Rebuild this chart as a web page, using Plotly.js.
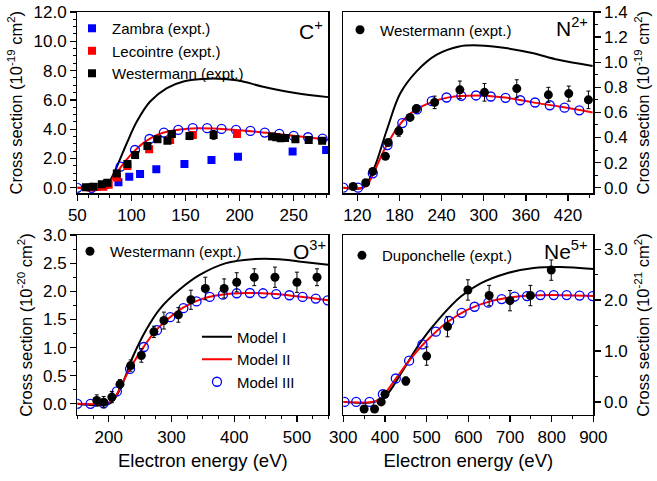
<!DOCTYPE html>
<html><head><meta charset="utf-8">
<script src="https://cdn.plot.ly/plotly-3.0.1.min.js"></script>
<style>html,body{margin:0;padding:0;background:#fff}</style>
</head><body><div id="chart" style="width:657px;height:481px"></div>
<script>
// ---------- C+ panel ----------
const cZambraX = [88, 98, 108, 123, 149, 174, 198.5, 249, 280];
const cZambraY = [0.38, 0.75, 0.94, 1.26, 1.62, 1.90, 2.12, 2.47, 2.58];
const cLecX = [62, 68, 74, 79, 86.5, 96.3, 116.4, 135.8, 156.8, 197.6];
const cLecY = [0.02, 0.05, 0.08, 0.2, 0.71, 1.49, 2.63, 3.27, 3.61, 3.68];
const cWesX = [58, 64.8, 72.6, 77.8, 86.5, 96.3, 103.4, 114.8, 124.1, 133.3, 137.4, 153.7, 176, 230, 234, 238, 242, 251.6, 263.9, 276.3];
const cWesY = [0.03, 0.07, 0.25, 0.34, 0.98, 1.62, 2.24, 2.86, 3.31, 3.22, 3.68, 3.54, 3.61, 3.5, 3.45, 3.38, 3.4, 3.31, 3.27, 3.22];
const cWesE = [0.05, 0.05, 0.05, 0.05, 0.08, 0.08, 0.1, 0.1, 0.12, 0.12, 0.2, 0.25, 0.3, 0.12, 0.12, 0.12, 0.12, 0.12, 0.12, 0.12];
const cM1X = [50, 75, 78.7, 86.5, 95.7, 105, 117.3, 132.8, 148.1, 166.7, 180, 199, 220.7, 251.6, 282];
const cM1Y = [0, 0.05, 0.3, 1.44, 3.04, 4.52, 5.89, 6.81, 7.26, 7.43, 7.45, 7.33, 6.92, 6.47, 6.19];
const cM2X = [50, 65, 72, 77, 85, 90, 100, 110, 120, 130, 145, 160, 175, 200, 225, 250, 282];
const cM2Y = [0, 0, 0.04, 0.22, 0.85, 1.4, 2.3, 3.0, 3.48, 3.77, 3.98, 4.07, 4.05, 3.93, 3.75, 3.55, 3.28];
const cM3X = [50, 63.3, 76.6, 90, 103.3, 116.7, 130, 143.3, 156.7, 170, 183.3, 196.7, 210, 223.3, 236.7, 250, 263.3, 276.7];
const cM3Y = [0, 0, 0.25, 1.44, 2.58, 3.33, 3.77, 3.95, 4.07, 4.07, 4.02, 3.95, 3.88, 3.77, 3.68, 3.54, 3.45, 3.36];
// ---------- N2+ panel ----------
const nWesX = [114, 132, 142, 160, 164, 179, 195, 204, 230, 266, 301, 347, 392, 421, 449];
const nWesY = [0.01, 0.04, 0.13, 0.25, 0.36, 0.45, 0.56, 0.63, 0.68, 0.78, 0.76, 0.79, 0.74, 0.75, 0.70];
const nWesE = [0.01, 0.01, 0.02, 0.02, 0.02, 0.04, 0.02, 0.03, 0.05, 0.07, 0.07, 0.07, 0.06, 0.06, 0.07];
const nM1X = [100, 129, 143.5, 162, 181, 204, 233, 265, 294, 331, 369, 406, 455];
const nM1Y = [0, 0.005, 0.15, 0.46, 0.75, 0.925, 1.06, 1.126, 1.134, 1.113, 1.073, 1.019, 0.97];
const nM2X = [100, 128, 135, 145, 160, 180, 200, 225, 250, 290, 330, 370, 410, 455];
const nM2Y = [0, 0, 0.03, 0.14, 0.32, 0.5, 0.61, 0.68, 0.72, 0.735, 0.718, 0.68, 0.645, 0.6];
const nM3X = [100, 121, 142, 163, 184, 205, 226, 247, 268, 289, 310, 331, 352, 373, 394, 415, 436];
const nM3Y = [0, 0, 0.115, 0.34, 0.515, 0.625, 0.69, 0.719, 0.732, 0.735, 0.727, 0.716, 0.697, 0.679, 0.657, 0.638, 0.617];
// ---------- O3+ panel ----------
const oWesX = [181, 192, 205, 218, 235, 252, 272, 288, 311, 331, 354, 384, 404, 432, 465, 500, 532];
const oWesY = [0.06, 0.03, 0.12, 0.35, 0.68, 0.86, 1.28, 1.48, 1.58, 1.85, 2.05, 2.05, 2.16, 2.25, 2.25, 2.16, 2.25];
const oWesE = [0.1, 0.1, 0.1, 0.08, 0.1, 0.12, 0.1, 0.15, 0.13, 0.17, 0.2, 0.17, 0.17, 0.15, 0.18, 0.18, 0.15];
const oM1X = [150, 202, 218, 239, 260, 281, 313, 345, 387, 429, 472, 503, 550];
const oM1Y = [0, 0.01, 0.26, 0.85, 1.32, 1.68, 2.03, 2.29, 2.5, 2.57, 2.57, 2.53, 2.47];
const oM2X = [150, 200, 210, 220, 235, 255, 275, 300, 320, 350, 380, 420, 460, 500, 550];
const oM2Y = [0, 0.02, 0.12, 0.33, 0.65, 1.0, 1.3, 1.56, 1.72, 1.87, 1.94, 1.97, 1.955, 1.91, 1.84];
const oM3X = [150, 171, 192, 213, 234, 256, 277, 298, 319, 340, 361, 382, 404, 425, 446, 467, 488, 509, 530, 549];
const oM3Y = [0, 0, 0.01, 0.22, 0.62, 1.01, 1.31, 1.54, 1.7, 1.82, 1.9, 1.94, 1.965, 1.97, 1.965, 1.95, 1.93, 1.9, 1.87, 1.84];
// ---------- Ne5+ panel ----------
const neDupX = [350, 375, 391, 400, 450, 500, 550, 599, 650, 700, 749, 799];
const neDupY = [-0.14, -0.14, 0, 0.15, 0.41, 0.9, 1.48, 2.2, 2.09, 1.99, 2.09, 2.59];
const neDupE = [0.06, 0.03, 0.03, 0.03, 0.08, 0.18, 0.2, 0.2, 0.2, 0.2, 0.2, 0.2];
const neM1X = [300, 375, 403, 438.5, 486, 534, 582, 629.5, 693, 757, 820, 900];
const neM1Y = [0, 0, 0.13, 0.56, 1.18, 1.67, 2.07, 2.33, 2.53, 2.63, 2.65, 2.61];
const neM2X = [300, 370, 390, 400, 430, 460, 500, 550, 600, 650, 700, 750, 800, 900];
const neM2Y = [0, 0, 0.07, 0.16, 0.5, 0.83, 1.2, 1.57, 1.82, 1.97, 2.05, 2.09, 2.1, 2.08];
const neM3X = [303, 331, 363, 395, 426, 458, 490, 522, 554, 584, 615, 648, 680, 711, 741, 773, 805, 836, 867, 898];
const neM3Y = [0, 0, 0, 0.15, 0.46, 0.81, 1.13, 1.38, 1.59, 1.75, 1.87, 1.95, 2.02, 2.07, 2.08, 2.1, 2.1, 2.1, 2.09, 2.08];

const FONT = 'Liberation Sans, Arial, sans-serif';
const BLUE = '#0000ff', RED = '#ff0000';

function m1(x, y, xa, ya, leg, show) {
  return {x, y, xaxis: xa, yaxis: ya, mode: 'lines', name: 'Model I', line: {color: 'black', width: 2, shape: 'spline'}, legend: leg, showlegend: !!show};
}
function m2(x, y, xa, ya, leg, show) {
  return {x, y, xaxis: xa, yaxis: ya, mode: 'lines', name: 'Model II', line: {color: RED, width: 2, shape: 'spline'}, legend: leg, showlegend: !!show};
}
function m3(x, y, xa, ya, leg, show) {
  return {x, y, xaxis: xa, yaxis: ya, mode: 'markers', name: 'Model III', marker: {symbol: 'circle-open', color: BLUE, size: 9, line: {width: 1.3, color: BLUE}}, legend: leg, showlegend: !!show};
}
function expt(x, y, e, xa, ya, name, sym, color, leg) {
  const t = {x, y, xaxis: xa, yaxis: ya, mode: 'markers', name, marker: {symbol: sym, color, size: sym === 'square' ? 8 : 9}, legend: leg, showlegend: true};
  if (e) t.error_y = {type: 'data', array: e, visible: true, color: 'black', thickness: 1, width: 2};
  return t;
}

const traces = [
  m1(cM1X, cM1Y, 'x', 'y', 'legend', false),
  m2(cM2X, cM2Y, 'x', 'y', 'legend', false),
  m3(cM3X, cM3Y, 'x', 'y', 'legend', false),
  expt(cZambraX, cZambraY, null, 'x', 'y', 'Zambra (expt.)', 'square', BLUE, 'legend'),
  expt(cLecX, cLecY, null, 'x', 'y', 'Lecointre (expt.)', 'square', RED, 'legend'),
  expt(cWesX, cWesY, cWesE, 'x', 'y', 'Westermann (expt.)', 'square', 'black', 'legend'),

  m1(nM1X, nM1Y, 'x2', 'y2', 'legend2', false),
  m2(nM2X, nM2Y, 'x2', 'y2', 'legend2', false),
  m3(nM3X, nM3Y, 'x2', 'y2', 'legend2', false),
  expt(nWesX, nWesY, nWesE, 'x2', 'y2', 'Westermann (expt.)', 'circle', 'black', 'legend2'),

  m1(oM1X, oM1Y, 'x3', 'y3', 'legend4', true),
  m2(oM2X, oM2Y, 'x3', 'y3', 'legend4', true),
  m3(oM3X, oM3Y, 'x3', 'y3', 'legend4', true),
  expt(oWesX, oWesY, oWesE, 'x3', 'y3', 'Westermann (expt.)', 'circle', 'black', 'legend3'),

  m1(neM1X, neM1Y, 'x4', 'y4', 'legend2', false),
  m2(neM2X, neM2Y, 'x4', 'y4', 'legend2', false),
  m3(neM3X, neM3Y, 'x4', 'y4', 'legend2', false),
  expt(neDupX, neDupY, neDupE, 'x4', 'y4', 'Duponchelle (expt.)', 'circle', 'black', 'legend5')
];

function ax(o, minorDtick) {
  return Object.assign({
    showline: true, mirror: true, linecolor: 'black', linewidth: 1.3,
    ticks: 'outside', ticklen: 6, tickwidth: 1.3, tickcolor: 'black',
    showgrid: false, zeroline: false, automargin: false,
    tickfont: {family: FONT, size: 17, color: 'black'},
    minor: {ticks: 'outside', ticklen: 3, tickwidth: 1, tickcolor: 'black', showgrid: false, dtick: minorDtick}
  }, o);
}

const XD1 = [0.1177, 0.4997], XD2 = [0.5225, 0.9031];
const YDT = [0.598, 0.975], YDB = [0.137, 0.5114];
const ytitle = (p, s) => ({text: 'Cross section (10<sup>' + p + '</sup> cm<sup>2</sup>)', font: {family: FONT, size: 16.5, color: 'black'}, standoff: s});
const xtitle = {text: 'Electron energy (eV)', font: {family: FONT, size: 18.5, color: 'black'}, standoff: 8};
const legFont = {family: FONT, size: 15, color: 'black'};
function leg(x, y, extra) {
  return Object.assign({x, y, xref: 'paper', yref: 'paper', xanchor: 'left', yanchor: 'top', bgcolor: 'rgba(0,0,0,0)', borderwidth: 0, font: legFont, tracegroupgap: 0, itemwidth: 30}, extra || {});
}

const layout = {
  width: 657, height: 481,
  margin: {l: 0, r: 0, t: 0, b: 0},
  paper_bgcolor: 'white', plot_bgcolor: 'white',
  font: {family: FONT, color: 'black'},
  xaxis: ax({domain: XD1, anchor: 'y', range: [50, 282], tickvals: [50, 100, 150, 200, 250]}, 10),
  yaxis: ax({domain: YDT, anchor: 'x', range: [-0.38, 12], dtick: 2, tick0: 0, tickformat: '.1f', title: ytitle('-19', 6)}, 0.5),
  xaxis2: ax({domain: XD2, anchor: 'y2', range: [100, 456], tick0: 120, dtick: 60}, 30),
  yaxis2: ax({domain: YDT, anchor: 'x2', side: 'right', range: [-0.045, 1.4], dtick: 0.2, tick0: 0, tickformat: '.1f', title: ytitle('-19', 10)}, 0.1),
  xaxis3: ax({domain: XD1, anchor: 'y3', range: [150, 550], tickvals: [200, 300, 400, 500], title: xtitle}, 25),
  yaxis3: ax({domain: YDB, anchor: 'x3', range: [-0.2, 3.0], dtick: 0.5, tick0: 0, tickformat: '.1f', title: ytitle('-20', 6)}, 0.25),
  xaxis4: ax({domain: XD2, anchor: 'y4', range: [300, 900], dtick: 100, tick0: 300, title: xtitle}, 50),
  yaxis4: ax({domain: YDB, anchor: 'x4', side: 'right', range: [-0.26, 3.28], dtick: 1, tick0: 0, tickformat: '.1f', title: ytitle('-21', 10)}, 0.5),
  legend: leg(0.1096, 0.975),
  legend2: leg(0.5175, 0.972),
  legend3: leg(0.1065, 0.5114),
  legend4: leg(0.2998, 0.3337),
  legend5: leg(0.5205, 0.503),
  annotations: [
    {xref: 'x domain', yref: 'y domain', x: 0.985, y: 0.985, xanchor: 'right', yanchor: 'top', showarrow: false, text: 'C<sup>+</sup>', font: {family: FONT, size: 21, color: 'black'}},
    {xref: 'x2 domain', yref: 'y2 domain', x: 0.985, y: 1.0, xanchor: 'right', yanchor: 'top', showarrow: false, text: 'N<sup>2+</sup>', font: {family: FONT, size: 21, color: 'black'}},
    {xref: 'x3 domain', yref: 'y3 domain', x: 1.0, y: 1.0, xanchor: 'right', yanchor: 'top', showarrow: false, text: 'O<sup>3+</sup>', font: {family: FONT, size: 21, color: 'black'}},
    {xref: 'x4 domain', yref: 'y4 domain', x: 0.985, y: 1.0, xanchor: 'right', yanchor: 'top', showarrow: false, text: 'Ne<sup>5+</sup>', font: {family: FONT, size: 21, color: 'black'}}
  ]
};

Plotly.newPlot('chart', traces, layout, {displayModeBar: false, staticPlot: true});
</script></body></html>
